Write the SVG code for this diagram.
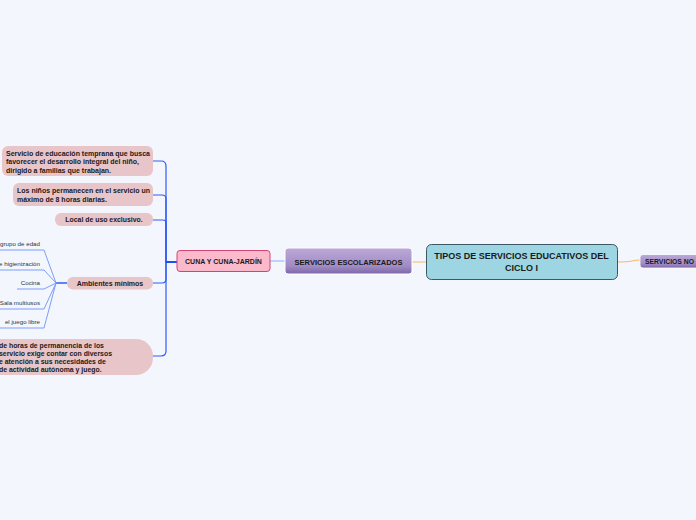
<svg xmlns="http://www.w3.org/2000/svg" width="696" height="520" viewBox="0 0 696 520">
<defs>
<linearGradient id="purp" x1="0" y1="0" x2="0" y2="1">
<stop offset="0" stop-color="#bcaad8"/>
<stop offset="0.7" stop-color="#a08bc4"/>
<stop offset="1" stop-color="#7d65a8"/>
</linearGradient>
<style>
.b{font-family:"Liberation Sans",Arial,sans-serif;font-weight:bold;fill:#1a1a1a}
.r{font-family:"Liberation Sans",Arial,sans-serif;fill:#333}
.pink{fill:#e8c5c9}
.lf{fill:none;stroke:#7c9ef9;stroke-width:1}
.br{fill:none;stroke:#2d5cf5;stroke-width:1.2}
.or{fill:none;stroke:#f4b860;stroke-width:1}
</style>
</defs>
<rect width="696" height="520" fill="#f4f6fe"/>
<g id="connectors">
<path class="or" d="M412,262 H426"/>
<path class="or" d="M617,262 Q628,262 632,261 Q636,260 640,260"/>
<path d="M270,261 H285" fill="none" stroke="#8eb0fa" stroke-width="1"/>
<path class="br" d="M177,262 H166 V166 Q166,161 161,161 H153"/>
<path class="br" d="M177,262 H166 V199 Q166,195 162,195 H153"/>
<path class="br" d="M177,262 H166 V223 Q166,220 163,220 H153"/>
<path class="br" d="M177,262 H166 V279 Q166,283 162,283 H153"/>
<path class="br" d="M177,262 H166 V351 Q166,356 161,356 H153" stroke="#6b8ff8"/>
<path d="M177,262 H166" fill="none" stroke="#1f4ff0" stroke-width="2"/>
<path d="M67,283 H56" fill="none" stroke="#2d5cf5" stroke-width="1.5"/>
<path class="lf" d="M56,283 L44,250 H0"/>
<path class="lf" d="M56,283 L44,270 H0"/>
<path class="lf" d="M56,283 L44,289 H17"/>
<path class="lf" d="M56,283 L44,309 H0"/>
<path class="lf" d="M56,283 L44,328 H0"/>
</g>
<g id="central">
<rect x="426.5" y="244.5" width="191" height="35" rx="5" fill="#9dd6e2" stroke="#3c5866" stroke-width="1"/>
<text class="b" x="521.5" y="258.5" font-size="9" text-anchor="middle">TIPOS DE SERVICIOS EDUCATIVOS DEL</text>
<text class="b" x="521.5" y="271" font-size="9" text-anchor="middle">CICLO I</text>
</g>
<g id="no-escolarizados">
<rect x="640" y="254.5" width="64" height="13.5" rx="3" fill="url(#purp)" stroke="#ffffff" stroke-width="0.8"/>
<text class="b" x="645" y="263.5" font-size="6.8">SERVICIOS NO</text>
</g>
<g id="escolarizados">
<rect x="285" y="248" width="127" height="26" rx="3" fill="url(#purp)" stroke="#ffffff" stroke-width="1"/>
<text class="b" x="348.5" y="264.5" font-size="7.5" text-anchor="middle">SERVICIOS ESCOLARIZADOS</text>
</g>
<g id="cuna">
<rect x="177" y="250.5" width="93" height="21" rx="3" fill="#fbb9cc" stroke="#d0466f" stroke-width="1"/>
<text class="b" x="223.5" y="264" font-size="7" text-anchor="middle">CUNA Y CUNA-JARDÍN</text>
</g>
<g id="n1">
<rect class="pink" x="2" y="146" width="151" height="30" rx="6"/>
<text class="b" font-size="7"><tspan x="6" y="155.5">Servicio de educación temprana que busca</tspan><tspan x="6" y="164">favorecer el desarrollo integral del niño,</tspan><tspan x="6" y="172.5">dirigido a familias que trabajan.</tspan></text>
</g>
<g id="n2">
<rect class="pink" x="13" y="183" width="140" height="23" rx="6"/>
<text class="b" font-size="7"><tspan x="17" y="193">Los niños permanecen en el servicio un</tspan><tspan x="17" y="201.5">máximo de 8 horas diarias.</tspan></text>
</g>
<g id="n3">
<rect class="pink" x="55" y="213" width="98" height="13" rx="6"/>
<text class="b" x="104" y="222" font-size="6.9" text-anchor="middle">Local de uso exclusivo.</text>
</g>
<g id="n4">
<rect class="pink" x="67" y="277" width="86" height="12.5" rx="6"/>
<text class="b" x="110" y="286" font-size="7" text-anchor="middle">Ambientes mínimos</text>
</g>
<g id="n5">
<rect class="pink" x="-20" y="339" width="173" height="36" rx="17"/>
<text class="b" font-size="6.9"><tspan x="-1" y="348">de horas de permanencia de los</tspan><tspan x="-1" y="356">servicio exige contar con diversos</tspan><tspan x="-1" y="364">e atención a sus necesidades de</tspan><tspan x="-1" y="372">de actividad autónoma y juego.</tspan></text>
</g>
<g id="leaves" class="r" font-size="6.2" text-anchor="end">
<text x="40" y="245.5">grupo de edad</text>
<text x="40" y="265.5">e higienización</text>
<text x="40" y="285">Cocina</text>
<text x="40" y="304.5">Sala multiusos</text>
<text x="40" y="324">el juego libre</text>
</g>
</svg>
